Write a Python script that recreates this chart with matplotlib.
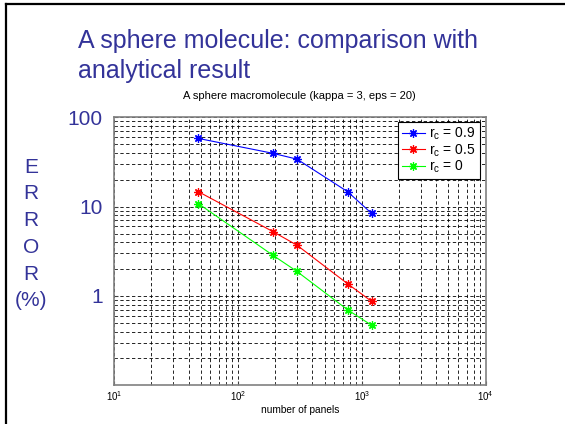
import matplotlib
matplotlib.use('Agg')
import matplotlib.pyplot as plt
from matplotlib.lines import Line2D

plt.rcParams['font.family'] = ['Liberation Sans', 'DejaVu Sans']
plt.rcParams['mathtext.default'] = 'regular'

# data
panels = [48, 192, 300, 768, 1200]
err_09 = [58.0, 39.5, 34.0, 14.7, 8.4]
err_05 = [14.7, 5.25, 3.7, 1.37, 0.87]
err_00 = [10.8, 2.85, 1.88, 0.70, 0.47]
series_labels = ['r$_c$ = 0.9', 'r$_c$ = 0.5', 'r$_c$ = 0']
series_colors = ['#0000ff', '#ff0000', '#00ff00']
ytick_vals = [1, 10, 100]
ytick_labels = ['1', '10', '100']

slide_blue = '#333399'

fig = plt.figure(figsize=(5.65, 4.24), dpi=100)
fig.patch.set_facecolor('white')

# slide frame (top and left edges)
fig.add_artist(Line2D([5.5 / 565, 5.5 / 565], [0, 1 - 3.5 / 424], color='black', lw=1.6))
fig.add_artist(Line2D([5.5 / 565, 1], [1 - 3.5 / 424, 1 - 3.5 / 424], color='black', lw=1.6))

# slide title
fig.text(78 / 565, 1 - 48 / 424, 'A sphere molecule: comparison with',
         color=slide_blue, fontsize=18, ha='left', va='baseline')
fig.text(78 / 565, 1 - 78 / 424, 'analytical result',
         color=slide_blue, fontsize=18, ha='left', va='baseline')

# vertical "ERROR (%)" label
fig.text(31 / 565, 1 - 234 / 424, 'E\nR\nR\nO\nR\n(%)', color=slide_blue,
         fontsize=15, ha='center', va='center', multialignment='center',
         linespacing=1.52)

ax = fig.add_axes([114 / 565, 1 - 385.3 / 424, (485.7 - 114) / 565, (385.3 - 117.3) / 424])

for vals, lab, col in zip([err_09, err_05, err_00], series_labels, series_colors):
    ax.plot(panels, vals, color=col, lw=0.8, marker=(8, 2, 0), markersize=6,
            markeredgewidth=0.9, label=lab)

ax.set_xscale('log')
ax.set_yscale('log')
ax.set_xlim(10, 1e4)
ax.set_ylim(0.1, 100)
ax.set_yticks(ytick_vals, labels=ytick_labels)

ax.grid(True, which='both', color='black', linestyle=(0, (4, 3)), lw=0.6)
for s in ax.spines.values():
    s.set_color('#808080')
    s.set_linewidth(1.2)

ax.tick_params(axis='both', which='both', direction='in', color='#404040')
ax.tick_params(axis='x', which='major', labelsize=7, pad=2.5, length=3)
ax.tick_params(axis='x', which='minor', length=2)
ax.tick_params(axis='y', which='major', labelsize=15, labelcolor=slide_blue, pad=8, length=3)
ax.tick_params(axis='y', which='minor', length=2)

ax.set_title('A sphere macromolecule (kappa = 3, eps = 20)', fontsize=8, pad=13)
ax.set_xlabel('number of panels', fontsize=7.3, labelpad=2)

leg = ax.legend(loc='upper right', bbox_to_anchor=(0.985, 0.984), borderaxespad=0,
                fontsize=10, fancybox=False, framealpha=1, edgecolor='black',
                handlelength=1.6, handletextpad=0.35, labelspacing=0.0,
                borderpad=0.3)
leg.get_frame().set_linewidth(0.8)

fig.savefig('out.png', dpi=100)
